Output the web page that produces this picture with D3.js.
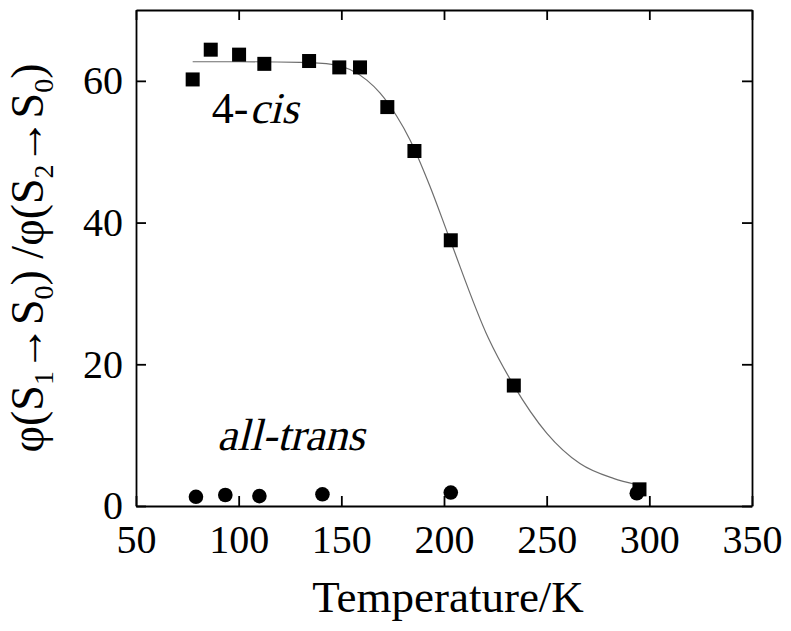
<!DOCTYPE html>
<html>
<head>
<meta charset="utf-8">
<script src="https://cdn.jsdelivr.net/npm/d3@7/dist/d3.min.js"></script>
<style>
  body { margin: 0; background: #fff; }
</style>
</head>
<body>
<div id="chart"></div>
<script>
// 4-cis (squares)
const cisTemp = [77.6, 86.4, 100.2, 112.5, 134.3, 149.0, 159.1, 172.4, 185.6, 203.3, 234.0, 295.2];
const cisRatio = [60.2, 64.4, 63.7, 62.4, 62.8, 61.9, 61.9, 56.3, 50.1, 37.5, 17.0, 2.35];

// all-trans (circles)
const transTemp = [79.2, 93.5, 110.1, 140.8, 203.3, 293.9];
const transRatio = [1.3, 1.55, 1.4, 1.65, 1.9, 1.8];

// fitted curve through the 4-cis points
const fitTemp = [77.6, 100, 129.9, 146.1, 154.2, 162.4, 168.8, 177.0, 183.4, 193.2, 202.9, 221.6, 233.8, 250.0, 266.2, 282.5, 293.9];
const fitRatio = [62.7, 62.7, 62.6, 62.3, 61.6, 60.1, 58.3, 55.0, 51.7, 45.1, 37.6, 23.7, 17.1, 10.3, 6.0, 3.9, 3.0];

const xTicks = [50, 100, 150, 200, 250, 300, 350];
const yTicks = [0, 20, 40, 60];

const width = 791, height = 631;
const margin = { top: 10, right: 39, bottom: 125, left: 136 };
const serif = "'Liberation Serif', serif";

const svg = d3.select("#chart").append("svg")
    .attr("width", width).attr("height", height);

const x = d3.scaleLinear().domain([50, 350]).range([margin.left, width - margin.right]);
const y = d3.scaleLinear().domain([0, 70]).range([height - margin.bottom, margin.top]);

function styleAxis(g) {
  g.attr("font-family", null);
  g.selectAll("path.domain").attr("stroke", "#000").attr("stroke-width", 1.8);
  g.selectAll(".tick line").attr("stroke", "#000").attr("stroke-width", 1.8);
  g.selectAll(".tick text").attr("font-size", 40).style("font-family", serif).attr("fill", "#000");
}

svg.append("g").attr("transform", `translate(0,${y(0)})`)
    .call(d3.axisBottom(x).tickValues(xTicks).tickSizeInner(-10).tickSizeOuter(0).tickPadding(19))
    .call(styleAxis);
svg.append("g").attr("transform", `translate(0,${y(70)})`)
    .call(d3.axisTop(x).tickValues(xTicks).tickSizeInner(-10).tickSizeOuter(0).tickFormat(""))
    .call(styleAxis);
svg.append("g").attr("transform", `translate(${x(50)},0)`)
    .call(d3.axisLeft(y).tickValues(yTicks).tickSizeInner(-10).tickSizeOuter(0).tickPadding(13))
    .call(styleAxis);
svg.append("g").attr("transform", `translate(${x(350)},0)`)
    .call(d3.axisRight(y).tickValues(yTicks).tickSizeInner(-10).tickSizeOuter(0).tickFormat(""))
    .call(styleAxis);

// fit line
const line = d3.line().x(d => x(d[0])).y(d => y(d[1])).curve(d3.curveMonotoneX);
svg.append("path")
    .datum(d3.zip(fitTemp, fitRatio))
    .attr("d", line)
    .attr("fill", "none").attr("stroke", "#6e6e6e").attr("stroke-width", 1.2);

// squares
const sq = 14;
svg.selectAll("rect.cis").data(d3.zip(cisTemp, cisRatio)).enter().append("rect")
    .attr("class", "cis")
    .attr("x", d => x(d[0]) - sq / 2).attr("y", d => y(d[1]) - sq / 2)
    .attr("width", sq).attr("height", sq).attr("fill", "#000");

// circles
svg.selectAll("circle.trans").data(d3.zip(transTemp, transRatio)).enter().append("circle")
    .attr("class", "trans")
    .attr("cx", d => x(d[0])).attr("cy", d => y(d[1]))
    .attr("r", 7.3).attr("fill", "#000");

// no serif italic face is installed, so slant the regular one
function slanted(px, py, txt, size) {
  return svg.append("text")
      .attr("transform", `translate(${px},${py}) skewX(-14)`)
      .attr("font-size", size).style("font-family", serif)
      .text(txt);
}

// labels in the plot
const cisX = x(86.9), cisY = y(54.0);
const four = svg.append("text").attr("x", cisX).attr("y", cisY).attr("font-size", 44)
    .style("font-family", serif).text("4-");
slanted(cisX + four.node().getComputedTextLength() + 1, cisY, "cis", 44);

slanted(x(88.5) + 2, y(7.9), "all-trans", 45);

// axis titles
svg.append("text")
    .attr("x", (x(50) + x(350)) / 2 + 4).attr("y", 612)
    .attr("text-anchor", "middle").attr("font-size", 45)
    .style("font-family", serif)
    .text("Temperature/K");

const yt = svg.append("text")
    .attr("transform", `translate(43,${(y(0) + y(70)) / 2}) rotate(-90)`)
    .attr("text-anchor", "middle").attr("font-size", 46)
    .style("font-family", serif);
const parts = [
  ["φ(S", 0], ["1", 1], ["→", -1], ["S", 0], ["0", 1], [") /φ(S", -1], ["2", 1], ["→", -1], ["S", 0], ["0", 1], [")", -1]
];
parts.forEach(([t, s]) => {
  const ts = yt.append("tspan").text(t);
  if (s === 1) ts.attr("font-size", 28).attr("dy", 10);
  if (s === -1) ts.attr("dy", -10);
});
</script>
</body>
</html>
